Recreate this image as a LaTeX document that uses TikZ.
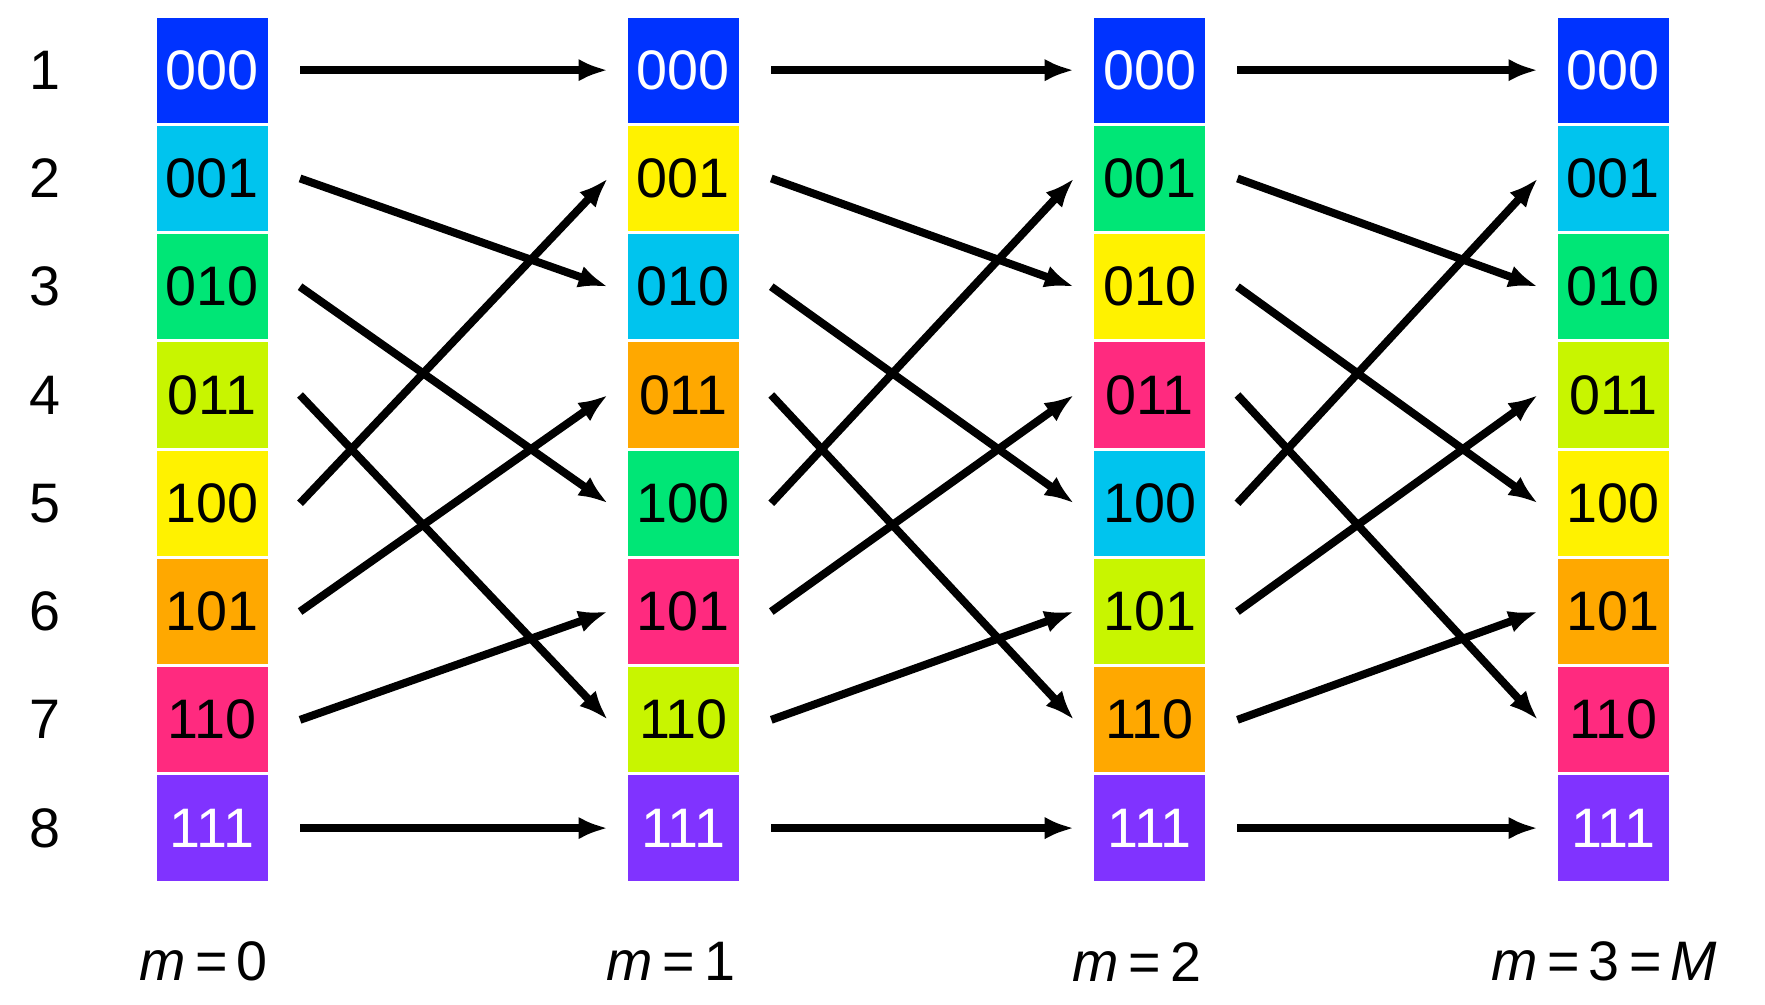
\documentclass[tikz,border=0pt]{standalone}
\usepackage{fontspec}
\setmainfont{Liberation Sans}
\usepackage{xcolor}
\usetikzlibrary{calc,arrows.meta}
\definecolor{cblue}{HTML}{0033FF}
\definecolor{ccyan}{HTML}{00C4EE}
\definecolor{cgreen}{HTML}{00E676}
\definecolor{clime}{HTML}{C8F500}
\definecolor{cyellow}{HTML}{FFF200}
\definecolor{corange}{HTML}{FFA800}
\definecolor{cpink}{HTML}{FF2A7F}
\definecolor{cpurple}{HTML}{8033FF}
\tikzset{
  cell/.style={minimum width=0.98cm, minimum height=0.93cm, inner sep=0pt, font=\fontsize{14}{17}\selectfont},
  perm/.style={line width=2pt, -{Latex[length=0.26cm,width=0.2cm]}},
  lbl/.style={font=\fontsize{14}{17}\selectfont}
}
\begin{document}
\begin{tikzpicture}
  \useasboundingbox (0,0) rectangle (15.6,-8.88);
  % columns: x position / colours top to bottom
  \foreach \c/\x/\cols in {0/1.875/{cblue,ccyan,cgreen,clime,cyellow,corange,cpink,cpurple},
                            1/6.04/{cblue,cyellow,ccyan,corange,cgreen,cpink,clime,cpurple},
                            2/10.16/{cblue,cgreen,cyellow,cpink,ccyan,clime,corange,cpurple},
                            3/14.26/{cblue,ccyan,cgreen,clime,cyellow,corange,cpink,cpurple}} {
    \foreach \col [count=\i] in \cols {
      \pgfmathsetmacro{\y}{-0.62-0.957*(\i-1)}
      \pgfmathtruncatemacro{\b}{\i-1}
      \pgfmathsetmacro{\bits}{{"000","001","010","011","100","101","110","111"}[\b]}
      \ifnum\i=1 \def\tc{white}\else\ifnum\i=8 \def\tc{white}\else\def\tc{black}\fi\fi
      \node[cell, fill=\col, text=\tc] (c\c r\i) at (\x,\y) {\bits};
    }
  }
  % row numbers
  \foreach \i in {1,...,8}
    \node[lbl] (n\i) at (0.4,{-0.62-0.957*(\i-1)}) {\i};
  % arrows between columns
  \foreach \c [evaluate=\c as \d using int(\c+1)] in {0,1,2}
    \foreach \s/\t in {1/1,2/3,3/5,4/7,5/2,6/4,7/6,8/8}
      \draw[perm] ($(c\c r\s.east)+(0.28,0)$) -- ($(c\d r\t.west)+(-0.17,0)$);
  % stage labels
  \node[lbl] (m0) at (1.8,-8.5) {\textit{m}\,=\,0};
  \node[lbl] (m1) at (5.93,-8.5) {\textit{m}\,=\,1};
  \node[lbl] (m2) at (10.05,-8.5) {\textit{m}\,=\,2};
  \node[lbl] (m3) at (14.18,-8.5) {\textit{m}\,=\,3\,=\,\textit{M}};
\end{tikzpicture}
\end{document}
